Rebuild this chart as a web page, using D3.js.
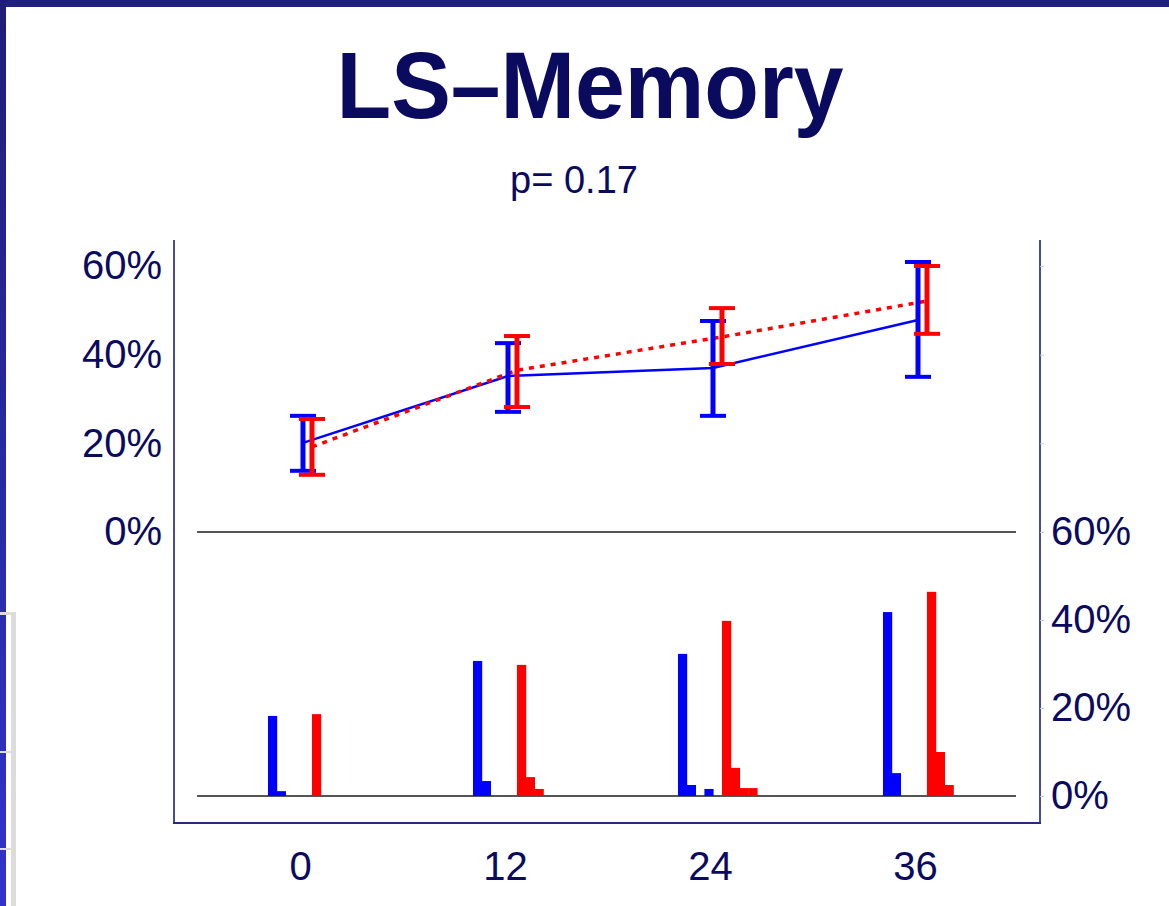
<!DOCTYPE html>
<html>
<head>
<meta charset="utf-8">
<script src="https://cdn.jsdelivr.net/npm/d3@7"></script>
<style>
  body { margin: 0; background: #fff; }
  text { font-family: "Liberation Sans", Arial, sans-serif; fill: #0a0a5f; }
</style>
</head>
<body>
<div id="chart"></div>
<script>
// months of follow-up
var months = [0, 12, 24, 36];
var yTicks = [0, 20, 40, 60];

// upper panel: mean % with error bars
var blueMean = [20.1, 35.2, 37.0, 47.8];
var blueLow  = [13.8, 27.1, 26.2, 35.0];
var blueHigh = [26.2, 42.6, 47.6, 60.9];
var redMean  = [19.2, 36.5, 44.0, 52.1];
var redLow   = [12.9, 28.2, 37.9, 44.7];
var redHigh  = [25.5, 44.2, 50.5, 60.0];

// lower panel: distribution bins at each time point (%)
var blueHist = [[18.2, 1.1], [30.7, 3.4], [32.3, 2.5, 0, 1.6], [41.8, 5.2]];
var redHist  = [[18.6], [29.8, 4.3, 1.6], [39.8, 6.4, 1.8, 1.8], [46.4, 10.0, 2.5]];

var W = 1169, H = 906;
var navy = '#0a0a5f', frame = '#4a4a98';

var svg = d3.select('#chart').append('svg')
  .attr('width', W).attr('height', H);

// slide background bits
var defs = svg.append('defs');
var grad = defs.append('linearGradient').attr('id', 'leftbar')
  .attr('x1', 0).attr('y1', 0).attr('x2', 0).attr('y2', 1);
grad.append('stop').attr('offset', '0%').attr('stop-color', '#1e1e78');
grad.append('stop').attr('offset', '100%').attr('stop-color', '#3333cc');

svg.append('rect').attr('width', W).attr('height', H).attr('fill', '#fff');
svg.append('rect').attr('x', 0).attr('y', 0).attr('width', W).attr('height', 7).attr('fill', '#20207f');
svg.append('rect').attr('x', 0).attr('y', 0).attr('width', 6).attr('height', H).attr('fill', 'url(#leftbar)');
svg.append('rect').attr('x', 11).attr('y', 613).attr('width', 5).attr('height', H - 613).attr('fill', '#dcdcdc');
svg.append('rect').attr('x', 0).attr('y', 612).attr('width', 16).attr('height', 3).attr('fill', '#dcdcdc');
svg.append('rect').attr('x', 0).attr('y', 751).attr('width', 11).attr('height', 2).attr('fill', '#dcdcdc');
svg.append('rect').attr('x', 0).attr('y', 848).attr('width', 11).attr('height', 2).attr('fill', '#dcdcdc');

// titles
svg.append('text')
  .attr('x', 590).attr('y', 118)
  .attr('text-anchor', 'middle')
  .attr('textLength', 507).attr('lengthAdjust', 'spacingAndGlyphs')
  .style('font-size', '95px').style('font-weight', 'bold')
  .text('LS\u2013Memory');

svg.append('text')
  .attr('x', 574).attr('y', 193)
  .attr('text-anchor', 'middle')
  .style('font-size', '38px')
  .text('p= 0.17');

// scales
var x = d3.scaleLinear().domain([0, 36]).range([300, 915]);
var yTop = d3.scaleLinear().domain([0, 60]).range([532, 266]);
var yBot = d3.scaleLinear().domain([0, 60]).range([796, 532]);

var plotLeft = 174, plotRight = 1040, plotBottom = 823, plotTop = 240;

// frame
svg.append('line').attr('x1', plotLeft).attr('x2', plotLeft).attr('y1', plotTop).attr('y2', plotBottom)
  .attr('stroke', frame).attr('stroke-width', 2);
svg.append('line').attr('x1', plotRight).attr('x2', plotRight).attr('y1', plotTop).attr('y2', plotBottom)
  .attr('stroke', frame).attr('stroke-width', 2);
svg.append('line').attr('x1', plotLeft - 1).attr('x2', plotRight + 1).attr('y1', plotBottom).attr('y2', plotBottom)
  .attr('stroke', '#2a2a78').attr('stroke-width', 2);

// zero lines of the two panels
[yTop(0), yBot(0)].forEach(function(yy) {
  svg.append('line').attr('x1', 197).attr('x2', 1016).attr('y1', yy).attr('y2', yy)
    .attr('stroke', '#555').attr('stroke-width', 2);
});

// axes
function styleAxis(g) {
  g.select('.domain').remove();
  g.selectAll('text').style('font-size', '40px').attr('fill', navy)
    .style('font-family', '"Liberation Sans", Arial, sans-serif');
}

svg.append('g')
  .attr('transform', 'translate(' + plotLeft + ',0)')
  .call(d3.axisLeft(yTop).tickValues(yTicks).tickSize(0).tickPadding(12)
    .tickFormat(function(d) { return d + '%'; }))
  .call(styleAxis);

svg.append('g')
  .attr('transform', 'translate(' + plotRight + ',0)')
  .call(d3.axisRight(yTop).tickValues(yTicks).tickSize(4).tickFormat(''))
  .call(styleAxis)
  .selectAll('line').attr('stroke', '#c8c8dc');

var rAxis = svg.append('g')
  .attr('transform', 'translate(' + plotRight + ',0)')
  .call(d3.axisRight(yBot).tickValues(yTicks).tickSize(4).tickPadding(7)
    .tickFormat(function(d) { return d + '%'; }))
  .call(styleAxis);
rAxis.selectAll('line').attr('stroke', '#c8c8dc');

svg.append('g')
  .attr('transform', 'translate(0,' + plotBottom + ')')
  .call(d3.axisBottom(x).tickValues(months).tickSize(0).tickPadding(29))
  .call(styleAxis);

// series
var series = [
  { mean: blueMean, low: blueLow, high: blueHigh, hist: blueHist, color: '#0000ff',
    off: 3, histOff: -32, width: 2.5, dash: null },
  { mean: redMean, low: redLow, high: redHigh, hist: redHist, color: '#ff0000',
    off: 12, histOff: 12, width: 3.5, dash: '5,6' }
];
var binW = 8.8, capW = 26;

// histogram bars
series.forEach(function(s) {
  s.hist.forEach(function(bins, i) {
    svg.append('g').selectAll('rect').data(bins).enter().append('rect')
      .attr('x', function(d, k) { return x(months[i]) + s.histOff + k * binW; })
      .attr('width', binW + 0.4)
      .attr('y', function(d) { return yBot(d); })
      .attr('height', function(d) { return yBot(0) - yBot(d); })
      .attr('fill', s.color);
  });
});

// lines
series.forEach(function(s) {
  var line = d3.line()
    .x(function(d, i) { return x(months[i]) + s.off; })
    .y(function(d) { return yTop(d); });
  svg.append('path').datum(s.mean)
    .attr('d', line)
    .attr('fill', 'none')
    .attr('stroke', s.color)
    .attr('stroke-width', s.width)
    .attr('stroke-dasharray', s.dash);
});

// error bars
series.forEach(function(s) {
  var g = svg.append('g').attr('stroke', s.color);
  months.forEach(function(m, i) {
    var cx = x(m) + s.off;
    g.append('line').attr('x1', cx).attr('x2', cx)
      .attr('y1', yTop(s.low[i])).attr('y2', yTop(s.high[i]))
      .attr('stroke-width', 5);
    [s.low[i], s.high[i]].forEach(function(v) {
      g.append('line').attr('x1', cx - capW / 2).attr('x2', cx + capW / 2)
        .attr('y1', yTop(v)).attr('y2', yTop(v))
        .attr('stroke-width', 4);
    });
  });
});
</script>
</body>
</html>
